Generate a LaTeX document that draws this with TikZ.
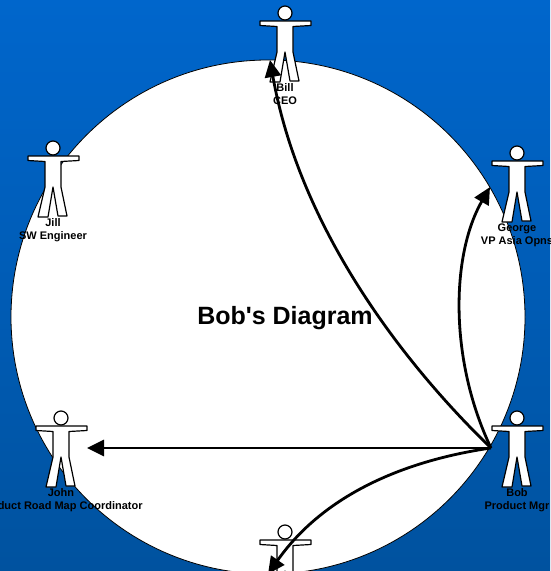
\documentclass[tikz,border=0pt]{standalone}
\usepackage{fontspec}
\setmainfont{Liberation Sans}
\newfontfamily\titlefont{Liberation Sans}
\usetikzlibrary{arrows.meta}
\definecolor{bgtop}{HTML}{0066CC}
\definecolor{bgbot}{HTML}{00529F}
\tikzset{
  x=1pt,y=-1pt,
  conn/.style={draw=black,line width=2.8pt,-{Triangle[length=17pt,width=16pt]}},
  lbl/.style={font=\bfseries\fontsize{11}{13.2}\selectfont,align=center,text=black,inner sep=0pt,anchor=north},
  figline/.style={draw=black,fill=white,line width=1.2pt,line join=round},
  person/.pic={
    \path[figline] (-25,8) -- (26,8) -- (26,12.5) -- (8,13.5) -- (8,39) -- (14,68) -- (5,68) -- (0,39) -- (-5,69) -- (-15,69) -- (-8,39) -- (-8,13.5) -- (-25,12.5) -- cycle;
    \path[figline] (0,0) circle[radius=7];
  }
}
\begin{document}
\begin{tikzpicture}
\useasboundingbox (0,0) rectangle (550,571);
\shade[top color=bgtop,bottom color=bgbot] (0,0) rectangle (550,571);
\node[circle,draw=black,fill=white,line width=0.8pt,minimum size=514pt,inner sep=0pt] (disc) at (268,317) {};
\pic (pBill) at (285,13) {person};
\pic (pJill) at (53,148) {person};
\pic (pGeorge) at (517,153) {person};
\pic (pBob) at (517,418) {person};
\pic (pJohn) at (61,418) {person};
\pic (pLow) at (285,532) {person};
\node[lbl] (lBill) at (285,83.5) {Bill\\CEO};
\node[lbl] (lJill) at (53,218.5) {Jill\\SW Engineer};
\node[lbl] (lGeorge) at (517,223.5) {George\\VP Asia Opns};
\node[lbl] (lBob) at (517,488.5) {Bob\\Product Mgr};
\node[lbl] (lJohn) at (61,488.5) {John\\Product Road Map Coordinator};
\node[font=\titlefont\bfseries\fontsize{25}{29}\selectfont,inner sep=0pt] (title) at (285,318.5) {Bob's Diagram};
\coordinate (src) at (491,448);
\coordinate (tBill) at (270,60);
\coordinate (tGeorge) at (490,187);
\coordinate (tJohn) at (87,448);
\coordinate (tLow) at (268,574);
\draw[conn] (src) .. controls (405,365) and (300,230) .. (tBill);
\draw[conn] (src) .. controls (449,360) and (451,255) .. (tGeorge);
\draw[conn] (src) -- (tJohn);
\draw[conn] (src) .. controls (395,462) and (320,500) .. (tLow);
\end{tikzpicture}
\end{document}
